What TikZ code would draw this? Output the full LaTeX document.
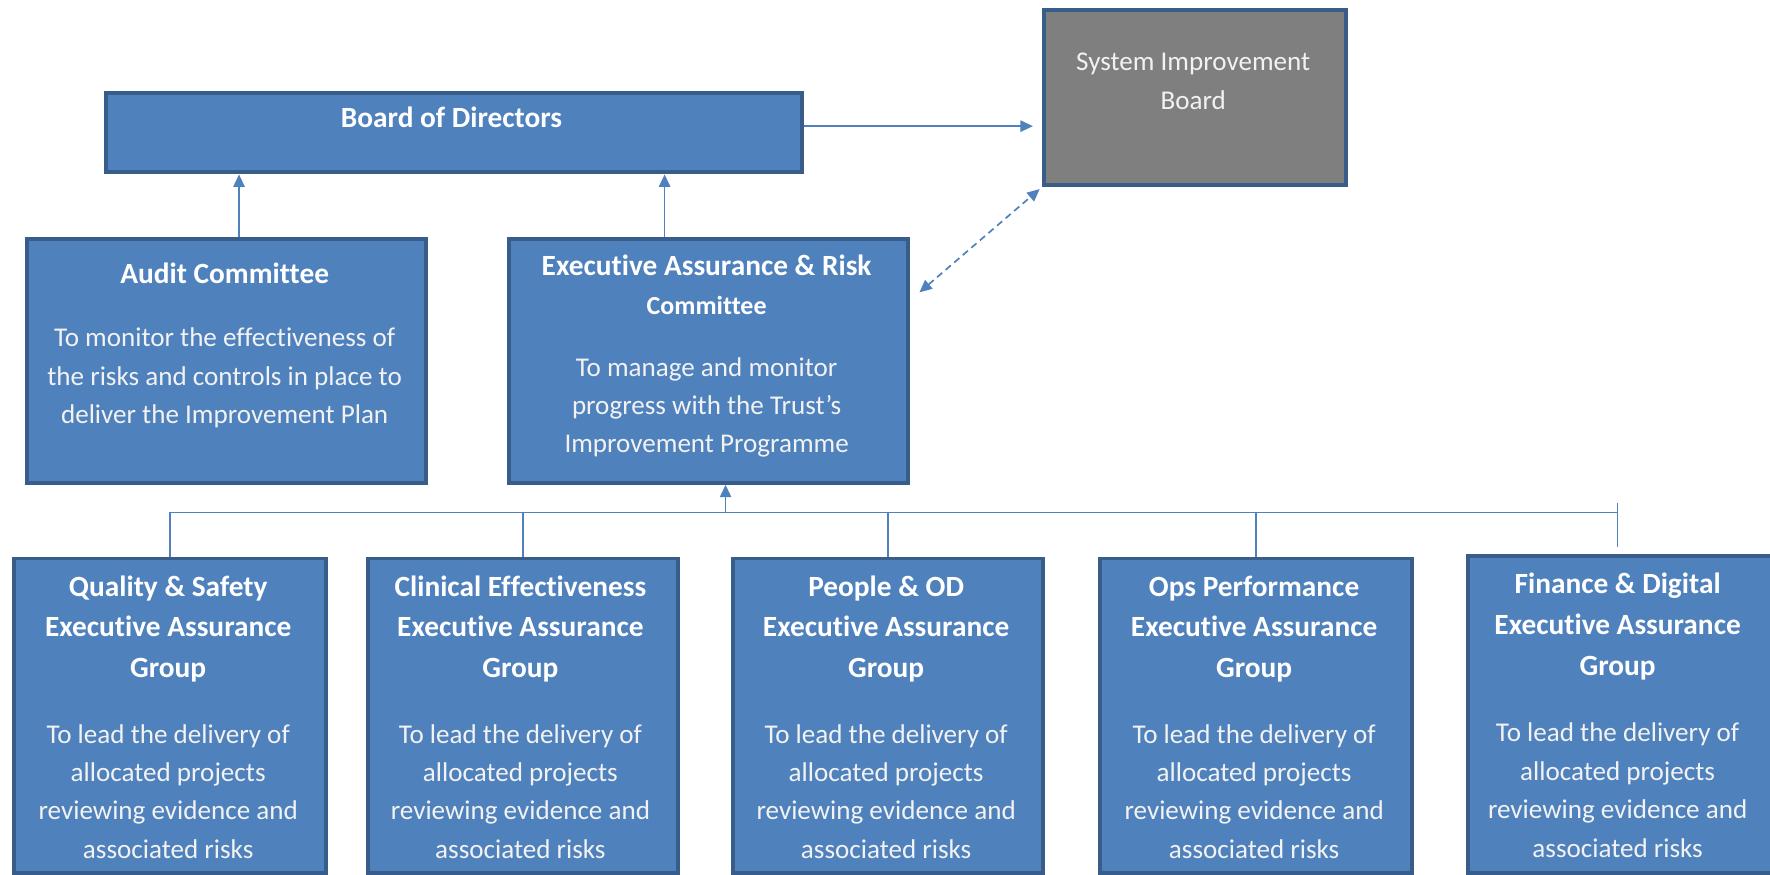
\documentclass[tikz,border=0pt]{standalone}
\usepackage{fontspec}
\setmainfont{Carlito}[Ligatures={NoCommon}]
\usetikzlibrary{arrows.meta}
\definecolor{boxfill}{HTML}{4F81BD}
\definecolor{boxline}{HTML}{385D8A}
\definecolor{sibfill}{HTML}{7F7F7F}
\definecolor{bodytxt}{HTML}{F2F2F2}
\begin{document}
\begin{tikzpicture}[x=1pt,y=-1pt,
  box/.style={draw=boxline, line width=3.5pt, fill=boxfill, inner sep=0pt, anchor=north west},
  sibbox/.style={box, fill=sibfill},
  hd/.style={text=white, font=\fontsize{26}{36}\selectfont\bfseries, align=center, inner sep=0pt},
  hdsmall/.style={text=white, font=\fontsize{23}{30}\selectfont\bfseries, align=center, inner sep=0pt},
  bd/.style={text=bodytxt, font=\fontsize{24}{34}\selectfont, align=center, inner sep=0pt},
  conn/.style={draw=boxfill, line width=1.5pt},
  arr/.style={conn, -{Triangle[length=11pt,width=10pt]}},
  darr/.style={conn, dashed, dash pattern=on 6pt off 4pt, {Triangle[length=11pt,width=10pt]}-{Triangle[length=11pt,width=10pt]}}
]
\useasboundingbox (0,0) rectangle (1568,775);

% top boxes
\node[box, minimum width=617pt, minimum height=70pt] (board) at (92,81) {};
\node[sibbox, minimum width=268pt, minimum height=155pt] (sib) at (923,7) {};
\node[box, minimum width=354pt, minimum height=216pt] (audit) at (22,210) {};
\node[box, minimum width=354pt, minimum height=216pt] (earc) at (449,210) {};

% bottom boxes
\node[box, minimum width=276pt, minimum height=279pt] (q) at (11,493) {};
\node[box, minimum width=275pt, minimum height=279pt] (c) at (324,493) {};
\node[box, minimum width=274pt, minimum height=279pt] (p) at (648,493) {};
\node[box, minimum width=276pt, minimum height=279pt] (o) at (973,493) {};
\node[box, minimum width=270pt, minimum height=281pt] (f) at (1299,491) {};

% texts
\node[hd] (board-t) at (400,104) {Board of Directors};
\node[bd, text=bodytxt] (sib-t) at (1057,72) {System Improvement\\Board};
\node[hd] (audit-h) at (199,242) {Audit Committee};
\node[bd] (audit-b) at (199,335) {To monitor the effectiveness of\\the risks and controls in place to\\deliver the Improvement Plan};
\node[hd] (earc-h) at (626,235) {Executive Assurance \& Risk};
\node[hdsmall] (earc-h2) at (626,271) {Committee};
\node[bd] (earc-b) at (626,361) {To manage and monitor\\progress with the Trust’s\\Improvement Programme};

\node[hd] (q-h) at (149,557) {Quality \& Safety\\Executive Assurance\\Group};
\node[hd] (c-h) at (461,557) {Clinical Effectiveness\\Executive Assurance\\Group};
\node[hd] (p-h) at (785,557) {People \& OD\\Executive Assurance\\Group};
\node[hd] (o-h) at (1111,557) {Ops Performance\\Executive Assurance\\Group};
\node[hd] (f-h) at (1433,555) {Finance \& Digital\\Executive Assurance\\Group};

\node[bd] (q-b) at (149,701) {To lead the delivery of\\allocated projects\\reviewing evidence and\\associated risks};
\node[bd] (c-b) at (461,701) {To lead the delivery of\\allocated projects\\reviewing evidence and\\associated risks};
\node[bd] (p-b) at (785,701) {To lead the delivery of\\allocated projects\\reviewing evidence and\\associated risks};
\node[bd] (o-b) at (1111,701) {To lead the delivery of\\allocated projects\\reviewing evidence and\\associated risks};
\node[bd] (f-b) at (1433,700) {To lead the delivery of\\allocated projects\\reviewing evidence and\\associated risks};

% connectors
\draw[arr] ([xshift=11pt]audit.north) -- ([xshift=11pt]audit.north |- board.south);
\draw[arr] ([xshift=-39pt]earc.north) -- ([xshift=-39pt]earc.north |- board.south);
\draw[arr, shorten >=8pt] ([yshift=6pt]board.east) -- ([yshift=6pt]board.east -| sib.west);
\draw[darr] ([xshift=8pt,yshift=-49pt]earc.north east) -- ([xshift=-2pt,yshift=-2pt]sib.south west);

\coordinate (busy) at (0,454);
\coordinate (ftop) at (1433,446);
\coordinate (fbot) at (1433,485);
\draw[conn] (q.north |- busy) -- (ftop |- busy);
\draw[conn] (ftop) -- (fbot);
\draw[conn] (q.north) -- (q.north |- busy);
\draw[conn] (c.north) -- (c.north |- busy);
\draw[conn] (p.north) -- (p.north |- busy);
\draw[conn] (o.north) -- (o.north |- busy);
\draw[arr] ([xshift=15pt]earc.south |- busy) -- ([xshift=15pt]earc.south);
\end{tikzpicture}
\end{document}
